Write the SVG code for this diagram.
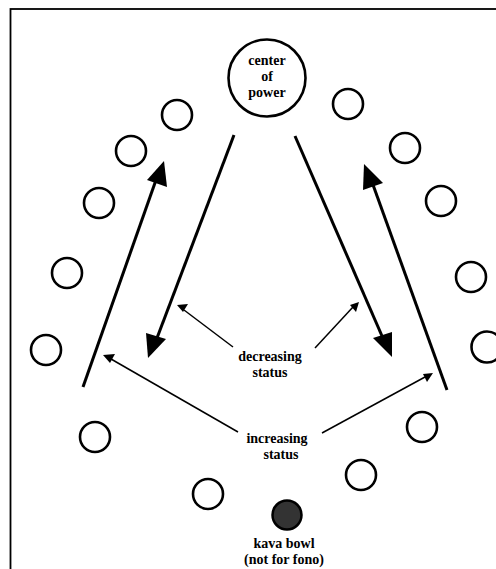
<svg xmlns="http://www.w3.org/2000/svg" width="496" height="569" viewBox="0 0 496 569">
<style>
.seat{fill:#fff;stroke:#000;stroke-width:2.6}
.thick{stroke:#000;stroke-width:3;fill:none}
.thin{stroke:#000;stroke-width:1.5;fill:none}
.head{fill:#000;stroke:none}
text{font-family:"Liberation Serif","Times New Roman",serif;font-weight:bold;font-size:14px;fill:#000;text-anchor:middle}
</style>
<rect x="10.5" y="9" width="500" height="580" fill="#fff" stroke="#000" stroke-width="1.8"/>
<g id="center">
<circle cx="267" cy="78" r="38.5" class="seat"/>
<text x="267" y="65">center</text>
<text x="267" y="81">of</text>
<text x="267" y="97">power</text>
</g>
<g id="seats-left">
<circle id="l1" cx="177" cy="115" r="15" class="seat"/>
<circle id="l2" cx="131" cy="151" r="15" class="seat"/>
<circle id="l3" cx="99" cy="203" r="15" class="seat"/>
<circle id="l4" cx="67" cy="273" r="15" class="seat"/>
<circle id="l5" cx="46" cy="350" r="15" class="seat"/>
<circle id="l6" cx="95" cy="437" r="15" class="seat"/>
<circle id="l7" cx="208" cy="494" r="15" class="seat"/>
</g>
<g id="seats-right">
<circle id="r1" cx="348" cy="104" r="15" class="seat"/>
<circle id="r2" cx="405" cy="148" r="15" class="seat"/>
<circle id="r3" cx="441" cy="201" r="15" class="seat"/>
<circle id="r4" cx="471" cy="277" r="15" class="seat"/>
<circle id="r5" cx="487" cy="347" r="15.5" class="seat"/>
<circle id="r6" cx="422" cy="427" r="15" class="seat"/>
<circle id="r7" cx="361" cy="475" r="15" class="seat"/>
</g>
<g id="kava">
<circle cx="287" cy="515" r="14.5" fill="#333" stroke="#000" stroke-width="2.5"/>
<text x="284" y="548">kava bowl</text>
<text x="284" y="564">(not for fono)</text>
</g>
<g id="labels">
<text x="270" y="361">decreasing</text>
<text x="270" y="377">status</text>
<text x="277" y="443">increasing</text>
<text x="281" y="459">status</text>
</g>
<g id="connectors">
<line x1="83" y1="387" x2="156" y2="180" class="thick"/>
<polygon points="164,161 147,180 167,187" class="head"/>
<line x1="447" y1="390" x2="372" y2="182" class="thick"/>
<polygon points="364,164 363,190 383,183" class="head"/>
<line x1="234" y1="135" x2="157" y2="338" class="thick"/>
<polygon points="148,358 146,333 166,339" class="head"/>
<line x1="295" y1="136" x2="382" y2="336" class="thick"/>
<polygon points="392,357 373,338 392,332" class="head"/>
<line x1="233" y1="347" x2="184" y2="310" class="thin"/>
<polygon points="177,305 188,304 183,312" class="head"/>
<line x1="315" y1="348" x2="353" y2="307" class="thin"/>
<polygon points="359,302 356,312 350,305" class="head"/>
<line x1="238" y1="432" x2="111" y2="359" class="thin"/>
<polygon points="103,355 115,354 110,363" class="head"/>
<line x1="322" y1="433" x2="425" y2="377" class="thin"/>
<polygon points="433,373 427,382 423,374" class="head"/>
</g>
</svg>
